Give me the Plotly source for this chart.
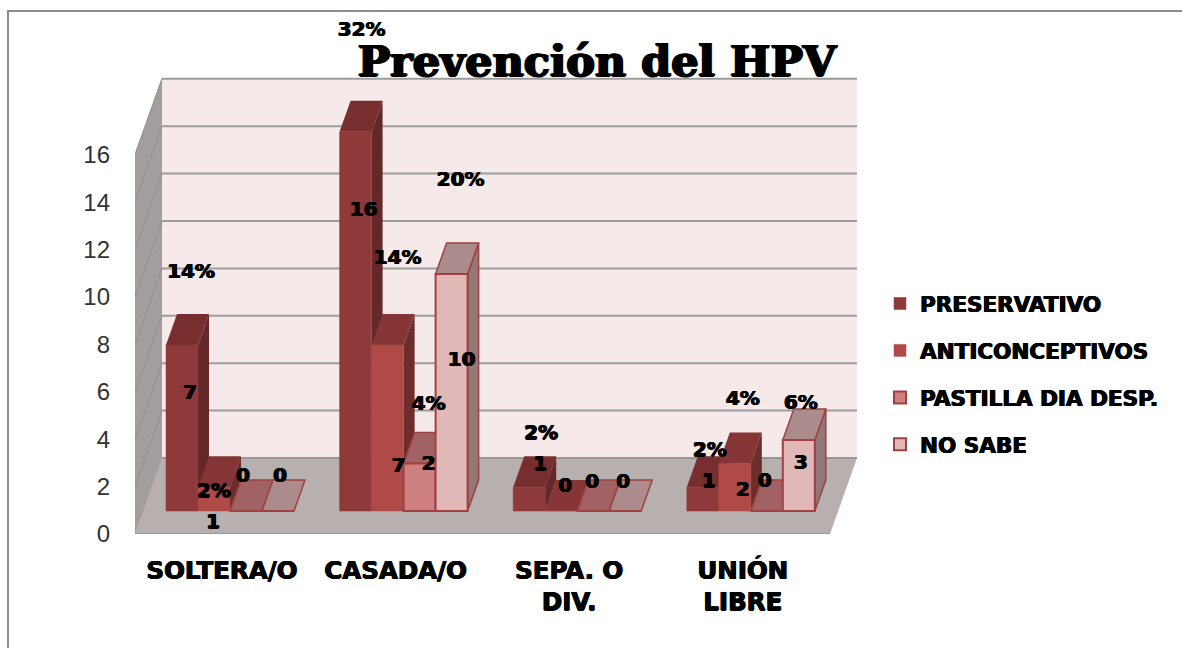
import plotly.graph_objects as go

# ---- data ----
categories = ["SOLTERA/O", "CASADA/O", "SEPA. O<br>DIV.", "UNIÓN<br>LIBRE"]
series_names = ["PRESERVATIVO", "ANTICONCEPTIVOS", "PASTILLA DIA DESP.", "NO SABE"]
preservativo = [7, 16, 1, 1]
anticonceptivos = [1, 7, 0, 2]
pastilla = [0, 2, 0, 0]
no_sabe = [0, 10, 0, 3]
pct_preservativo = ["14%", "32%", "2%", "2%"]
pct_anticonceptivos = ["2%", "14%", None, "4%"]
pct_pastilla = [None, "4%", None, None]
pct_no_sabe = [None, "20%", None, "6%"]
y_ticks = [0, 2, 4, 6, 8, 10, 12, 14, 16]

series_values = [preservativo, anticonceptivos, pastilla, no_sabe]
series_pcts = [pct_preservativo, pct_anticonceptivos, pct_pastilla, pct_no_sabe]

# ---- styles ----
front = ["#8f3a3a", "#b04a47", "#cf8080", "#e0b8b8"]
side = ["#652828", "#6e2d2d", "#8a5656", "#927878"]
top = ["#782e2e", "#853535", "#a06262", "#ab8b8b"]
edge = ["#8f3a3a", "#b04a47", "#a04040", "#a04040"]
HEAVY = "0.6px 0 0 #000, -0.6px 0 0 #000, 0 0.4px 0 #000"

# ---- geometry: axis scale ----
W, H = 1182, 648
ML, MB = 135, 114
PX_Y = 23.7            # pixels per value unit
PX_X = 173.6           # pixels per category
X0 = 230               # pixel of first category centre
xr = [(ML - X0) / PX_X, (W - X0) / PX_X]
yr = [0, (H - MB) / PX_Y]
dxu = lambda px: px / PX_X
dyu = lambda px: px / PX_Y

LIFT = dyu(23)         # bars stand forward of the floor's front edge
DEPTH_X, DEPTH_Y = dxu(11), dyu(31)
WALL_X, WALL_Y = dxu(27), dyu(76)
FLOOR_R = xr[0] + dxu(695)
BW = dxu(32)


def path(points):
    return "M" + " L".join(f"{a:.4f},{b:.4f}" for a, b in points) + " Z"


def poly(points, fill, line=None, width=0):
    return dict(type="path", xref="x", yref="y", layer="below", path=path(points),
                fillcolor=fill, line=dict(color=line or fill, width=width))


shapes = []
xl = xr[0]
# side wall, back wall
shapes.append(poly([(xl, 0), (xl + WALL_X, WALL_Y), (xl + WALL_X, WALL_Y + 16), (xl, 16)], "#a39d9d", "#a39d9d", 1))
shapes.append(poly([(xl + WALL_X, WALL_Y), (FLOOR_R + WALL_X, WALL_Y), (FLOOR_R + WALL_X, WALL_Y + 16), (xl + WALL_X, WALL_Y + 16)], "#f5e9e9"))
for t in y_ticks[1:]:
    shapes.append(dict(type="line", xref="x", yref="y", layer="below", x0=xl, y0=t, x1=xl + WALL_X, y1=t + WALL_Y,
                       line=dict(color="#8f8f8f", width=1)))
    shapes.append(dict(type="line", xref="x", yref="y", layer="below", x0=xl + WALL_X, y0=t + WALL_Y, x1=FLOOR_R + WALL_X, y1=t + WALL_Y,
                       line=dict(color="#9c9c9c", width=2)))
# floor
shapes.append(poly([(xl, 0), (xl + WALL_X, WALL_Y), (FLOOR_R + WALL_X, WALL_Y), (FLOOR_R, 0)], "#b8afaf"))
shapes.append(dict(type="line", xref="x", yref="y", layer="below", x0=xl, y0=0, x1=FLOOR_R, y1=0, line=dict(color="#999999", width=2)))
shapes.append(dict(type="line", xref="x", yref="y", layer="below", x0=xl + WALL_X, y0=WALL_Y, x1=FLOOR_R + WALL_X, y1=WALL_Y, line=dict(color="#979797", width=2)))
# frame
px = lambda v: (v - ML) / (W - ML)
py = lambda v: 1 - v / (H - MB)
shapes.append(dict(type="path", xref="paper", yref="paper", layer="below",
                   path=f"M{px(8)},{py(648)} L{px(8)},{py(11)} L{px(1182)},{py(11)}",
                   line=dict(color="#8c8c8c", width=2)))


# side and top faces, left to right, so later bars cover earlier ones
for c in range(len(categories)):
    for s in range(4):
        v = series_values[s][c]
        x0 = c + (s - 2) * BW
        x1 = x0 + BW
        yb, yt = LIFT, LIFT + v
        if v > 0:
            shapes.append(poly([(x1, yb), (x1 + DEPTH_X, yb + DEPTH_Y), (x1 + DEPTH_X, yt + DEPTH_Y), (x1, yt)],
                               side[s], edge[s] if s >= 2 else side[s], 1.5 if s >= 2 else 0))
        shapes.append(poly([(x0, yt), (x0 + DEPTH_X, yt + DEPTH_Y), (x1 + DEPTH_X, yt + DEPTH_Y), (x1, yt)],
                           top[s], edge[s] if s >= 2 else top[s], 1.5 if s >= 2 else 0))

fig = go.Figure()
xs = list(range(len(categories)))
for s, name in enumerate(series_names):
    fig.add_trace(go.Bar(x=xs, y=series_values[s], base=LIFT, name=name, legendgroup=name,
                         marker=dict(color=front[s], line=dict(color=edge[s], width=2 if s >= 2 else 0.5)),
                         hoverinfo="skip"))

# label placement relative to each bar's top-centre, in pixels
count_off = [[(8, 49), (8, 79), (11, -22), (6, -5)],
             [(-1, 36), (11, 122), (4, -24), (8, 27)],
             [(-3, -34), (9, 1), (-1, -28), (-2, -29)],
             [(2, -34), (10, 87), (-2, -28), (2, 24)]]
pct_off = [[(9, -72), (6, -101), (12, -53), (7, -36)],
           [(0, 5), (10, -86), None, (8, -64)],
           [None, (9, -59), None, None],
           [None, (9, -93), None, (2, -36)]]

lx, ly, lt = [], [], []
for s in range(4):
    for c in range(4):
        v = series_values[s][c]
        cx = c + (s - 1.5) * BW
        ty = LIFT + v
        ox, oy = count_off[s][c]
        lx.append(cx + dxu(ox)); ly.append(ty - dyu(oy)); lt.append(str(v))
        if series_pcts[s][c]:
            ox, oy = pct_off[s][c]
            lx.append(cx + dxu(ox)); ly.append(ty - dyu(oy)); lt.append(series_pcts[s][c])
fig.add_trace(go.Scatter(x=lx, y=ly, text=lt, mode="text", textposition="middle center",
                         textfont=dict(family="DejaVu Sans", size=20, color="#000000", weight="bold", shadow=HEAVY),
                         showlegend=False, hoverinfo="skip", cliponaxis=False))

fig.update_layout(
    width=W, height=H, autosize=False,
    margin=dict(l=ML, r=0, t=0, b=MB, pad=0),
    paper_bgcolor="#ffffff", plot_bgcolor="rgba(0,0,0,0)",
    barmode="group", bargap=1 - 4 * BW, bargroupgap=0,
    showlegend=True,
    shapes=shapes,
    title=dict(text="Prevención del HPV", x=597 / W, xref="container", xanchor="center",
               y=1 - 61 / H, yref="container", yanchor="middle",
               font=dict(family="DejaVu Serif", size=43, color="#000000", weight="bold",
                         shadow="1.2px 0 0 #000, -1.2px 0 0 #000, 0 0.6px 0 #000")),
    legend=dict(x=px(880), xanchor="left", y=py(283), yanchor="top", tracegroupgap=16,
                traceorder="grouped", bgcolor="rgba(0,0,0,0)",
                font=dict(family="DejaVu Sans", size=21.5, color="#000000", weight="bold", shadow=HEAVY)),
    xaxis=dict(range=xr, tickmode="array", tickvals=[x - dxu(8) for x in xs], ticktext=categories,
               showgrid=False, zeroline=False,
               showline=False, ticks="", ticklabelstandoff=19, automargin=False, tickangle=0,
               tickfont=dict(family="DejaVu Sans", size=24.5, color="#000000", weight="bold", shadow=HEAVY)),
    yaxis=dict(range=yr, tickmode="array", tickvals=y_ticks, showgrid=False, zeroline=False,
               showline=False, ticks="", ticklabelstandoff=24, automargin=False,
               tickfont=dict(family="Liberation Sans", size=24, color="#333333")),
)
fig.write_html("out.html", post_script="document.body.style.margin='0';", config={"displayModeBar": False})
